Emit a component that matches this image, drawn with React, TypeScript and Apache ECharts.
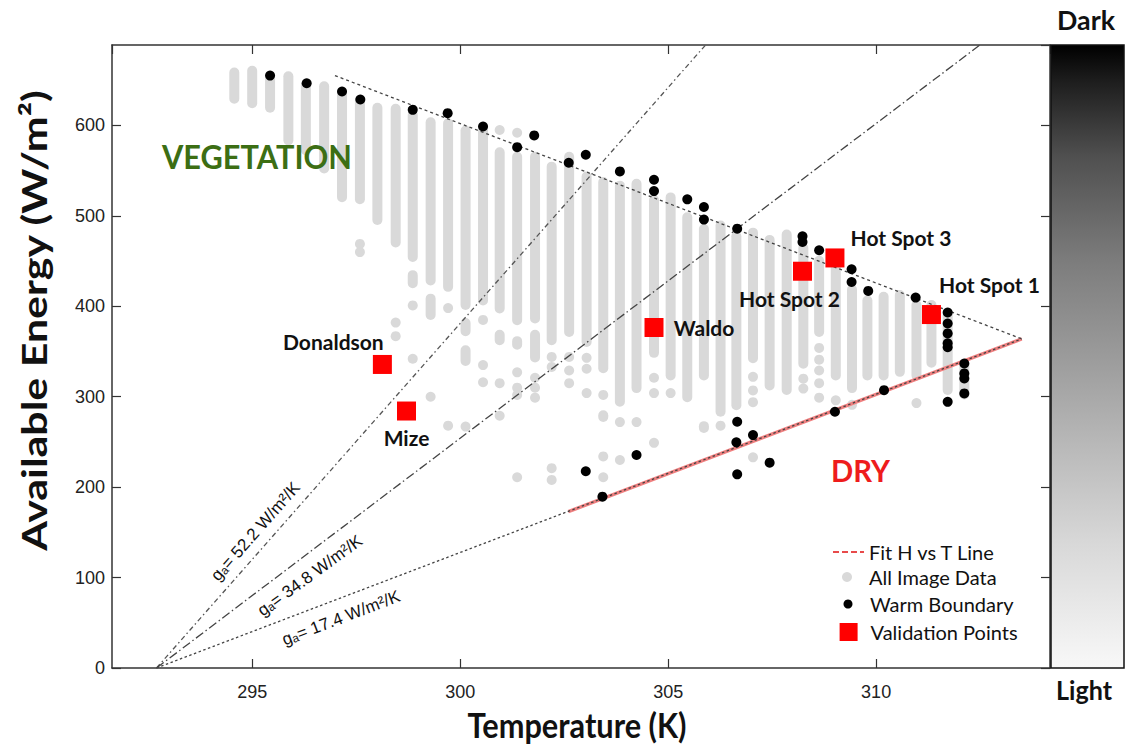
import { useEffect, useRef } from 'react';
import * as echarts from 'echarts';

// ---------- axes ----------
const xTickValues = [295, 300, 305, 310];
const yTickValues = [0, 100, 200, 300, 400, 500, 600];
const X_MIN = 291.63;
const X_MAX = 314.18;
const Y_MIN = 0;
const Y_MAX = 689;

// ---------- All Image Data ----------
// dense vertical runs of image pixels: [temperature K, energy low, energy high]
const imageRuns: [number, number, number][] = [
  [294.57, 624, 664], [295.0, 619, 666], [295.43, 614, 658], [295.87, 578, 660],
  [296.29, 567, 650], [296.73, 547, 649], [297.16, 515, 640], [297.59, 513, 633],
  [298.01, 490, 625], [298.45, 465, 624], [298.86, 449, 617], [298.86, 420, 440],
  [299.29, 423, 609], [299.29, 385, 414], [299.71, 416, 608], [300.13, 396, 600],
  [300.13, 367, 387], [300.13, 334, 357], [300.55, 401, 600], [300.95, 392, 576],
  [300.95, 357, 374], [301.37, 379, 571], [301.37, 352, 367], [301.8, 381, 571],
  [301.8, 338, 374], [302.2, 357, 560], [302.62, 366, 571], [303.04, 355, 549],
  [303.44, 326, 543], [303.44, 272, 285], [303.84, 289, 539], [304.24, 304, 541],
  [304.66, 343, 523], [305.06, 318, 526], [305.46, 294, 504], [305.86, 318, 491],
  [305.86, 260, 273], [306.26, 278, 495], [306.64, 285, 483], [307.04, 337, 487],
  [307.44, 307, 479], [307.85, 302, 485], [308.25, 331, 470], [308.63, 366, 456],
  [309.03, 318, 449], [309.42, 304, 424], [309.79, 318, 412], [310.18, 318, 416],
  [310.57, 322, 418], [310.97, 318, 407], [311.33, 332, 407], [311.72, 302, 396],
  [312.12, 297, 341],
];
// isolated image pixels: [temperature K, energy]
const imageDots: [number, number][] = [
  [297.59, 469], [297.59, 460], [298.45, 382], [298.45, 367], [298.86, 401], [298.86, 342],
  [299.29, 300], [299.71, 398], [299.71, 268], [300.13, 267], [300.55, 385], [300.55, 335],
  [300.55, 316], [300.95, 595], [300.95, 315], [300.95, 279], [301.37, 592], [301.37, 327],
  [301.37, 310], [301.37, 302], [301.37, 211], [301.8, 321], [301.8, 310], [301.8, 299],
  [302.2, 344], [302.2, 333], [302.2, 221], [302.2, 208], [302.62, 344], [302.62, 329],
  [302.62, 315], [303.04, 343], [303.04, 331], [303.04, 304], [303.44, 302], [303.44, 234],
  [303.44, 211], [303.84, 272], [303.84, 230], [304.24, 272], [304.66, 321], [304.66, 304],
  [304.66, 249], [305.06, 304], [306.26, 268], [307.04, 322], [307.04, 307], [307.04, 294],
  [307.04, 233], [308.25, 320], [308.25, 309], [308.63, 354], [308.63, 341], [308.63, 329],
  [308.63, 315], [308.63, 299], [309.03, 296], [309.42, 291], [310.97, 293],
];

// ---------- Warm Boundary ----------
const warmBoundary: [number, number][] = [
  [295.43, 655.2], [296.31, 646.7], [297.16, 637.6], [297.6, 628.7], [298.86, 617.3],
  [299.7, 613.6], [300.55, 598.9], [301.78, 589.0], [301.37, 576.0], [302.61, 558.8],
  [303.02, 567.6], [303.84, 549.2], [304.66, 540.0], [304.66, 527.4], [305.46, 518.3],
  [305.86, 509.8], [305.86, 495.9], [306.66, 485.9], [308.23, 477.4], [308.23, 471.1],
  [308.63, 462.0], [309.41, 441.0], [309.41, 426.9], [309.81, 417.0], [310.95, 409.7],
  [311.72, 393.2], [311.72, 381.0], [311.72, 370.0], [311.72, 359.2], [311.72, 354.8],
  [312.12, 336.8], [312.12, 325.8], [312.12, 320.3], [312.12, 303.7], [311.72, 294.4],
  [310.19, 307.3], [309.01, 283.4], [306.66, 272.3], [307.04, 257.6], [306.64, 249.6],
  [304.24, 235.6], [303.02, 217.6], [303.42, 189.5], [306.66, 214.2], [307.44, 227.1],
];

// ---------- Validation Points ----------
const validationNames = ['Donaldson', 'Mize', 'Waldo', 'Hot Spot 2', 'Hot Spot 3', 'Hot Spot 1'];
const validationTemp = [298.13, 298.71, 304.66, 308.23, 309.01, 311.33];
const validationEnergy = [335.7, 284.2, 376.6, 438.8, 453.5, 390.9];

// ---------- lines ----------
const fitLine: [number, number][] = [[302.6, 172.9], [313.5, 364]];
const upperBoundary: [number, number][] = [[296.99, 655.2], [313.5, 364]];
const ga522Line: [number, number][] = [[292.7, 0], [306.11, 700]];
const ga348Line: [number, number][] = [[292.7, 0], [312.81, 700]];
const ga174Line: [number, number][] = [[292.7, 0], [313.5, 364]];

// ---------- styles ----------
const GRAY = '#d9d9d9';
const AXIS_COLOR = '#333';
const TICK_FONT = '"Liberation Sans Narrow", "Liberation Sans", Arial, sans-serif';
const labelOffsets: Record<string, [number, number]> = {
  Donaldson: [-49, -23],
  Mize: [0, 26],
  Waldo: [50, 0],
  'Hot Spot 2': [-13, 27],
  'Hot Spot 3': [66, -20],
  'Hot Spot 1': [58, -30],
};

type Ann = {
  text: string; x: number; y: number; size: number; color: string;
  weight?: string; family?: string; width?: number; rot?: number;
};
const GA_FONT = '"Liberation Sans", Arial, sans-serif';
const annotations: Ann[] = [
  { text: 'VEGETATION', x: 257, y: 157, size: 33, color: '#3c6e14', weight: 'bold', width: 190 },
  { text: 'DRY', x: 860.5, y: 469.5, size: 31, color: '#ee1c1c', weight: 'bold', width: 59 },
  { text: 'Temperature (K)', x: 577, y: 725, size: 34, color: '#111', weight: 'bold', width: 219 },
  { text: 'Available Energy (W/m²)', x: 34, y: 320.5, size: 34, color: '#111', weight: 'bold', width: 462, rot: 90 },
  { text: 'Dark', x: 1086, y: 19, size: 27, color: '#111', weight: 'bold', width: 58 },
  { text: 'Light', x: 1084, y: 690, size: 27, color: '#111', weight: 'bold', width: 56 },
  { text: 'gₐ= 52.2 W/m²/K', x: 255.5, y: 531.5, size: 17, color: '#111', family: GA_FONT, weight: 'normal', rot: 48.6 },
  { text: 'gₐ= 34.8 W/m²/K', x: 310, y: 575.5, size: 17, color: '#111', family: GA_FONT, weight: 'normal', rot: 36 },
  { text: 'gₐ= 17.4 W/m²/K', x: 341, y: 618, size: 17, color: '#111', family: GA_FONT, weight: 'normal', rot: 21 },
];

function isTick(v: number, ticks: number[]) {
  return ticks.some((t) => Math.abs(t - v) < 1e-6);
}

function buildOption() {
  const ctx = document.createElement('canvas').getContext('2d');
  const graphics: any[] = [];

  graphics.push({
    type: 'rect',
    shape: { x: 1051, y: 45, width: 73, height: 623 },
    style: {
      fill: new echarts.graphic.LinearGradient(0, 0, 0, 1, [
        { offset: 0, color: '#000000' },
        { offset: 0.06, color: '#1e1e1e' },
        { offset: 0.18, color: '#505050' },
        { offset: 0.35, color: '#7d7d7d' },
        { offset: 0.5, color: '#9b9b9b' },
        { offset: 0.65, color: '#bababa' },
        { offset: 0.8, color: '#d8d8d8' },
        { offset: 1, color: '#f8f8f8' },
      ]),
      stroke: '#111',
      lineWidth: 1.5,
    },
    z: 10,
  });

  annotations.forEach((a) => {
    const family = a.family || 'Lato, "Open Sans", sans-serif';
    const weight = a.weight || 'bold';
    let scaleX = 1;
    if (a.width && ctx) {
      ctx.font = `${weight} ${a.size}px ${family}`;
      const w = ctx.measureText(a.text).width;
      if (w > 0) scaleX = a.width / w;
    }
    graphics.push({
      type: 'text',
      x: a.x,
      y: a.y,
      rotation: ((a.rot || 0) * Math.PI) / 180,
      scaleX,
      z: 20,
      style: {
        text: a.text,
        fontFamily: family,
        fontWeight: weight,
        fontSize: a.size,
        fill: a.color,
        align: 'center',
        verticalAlign: 'middle',
        textAlign: 'center',
        textVerticalAlign: 'middle',
      },
    });
  });

  const xAxisBase = {
    type: 'value',
    min: X_MIN,
    max: X_MAX,
    splitNumber: 5,
    splitLine: { show: false },
    axisLine: { show: true, onZero: false, lineStyle: { color: AXIS_COLOR, width: 1.5 } },
    axisTick: { show: true, inside: true, length: 9, lineStyle: { color: AXIS_COLOR, width: 1.2 } },
  };
  const yAxisBase = {
    type: 'value',
    min: Y_MIN,
    max: Y_MAX,
    interval: 100,
    splitLine: { show: false },
    axisLine: { show: true, onZero: false, lineStyle: { color: AXIS_COLOR, width: 1.5 } },
    axisTick: { show: true, inside: true, length: 9, lineStyle: { color: AXIS_COLOR, width: 1.2 } },
  };

  const legendText = { fontFamily: 'Lato, "Open Sans", sans-serif', fontSize: 20, color: '#111', lineHeight: 22 };
  const legendCommon = { orient: 'vertical', padding: 0, selectedMode: false, textStyle: legendText };

  return {
    animation: false,
    backgroundColor: '#ffffff',
    grid: { left: 112, right: 80, top: 45, bottom: 81, show: false, containLabel: false, outerBoundsMode: 'none' },
    xAxis: [
      {
        ...xAxisBase,
        position: 'bottom',
        axisLabel: {
          show: true,
          margin: 15,
          fontFamily: TICK_FONT,
          fontSize: 18,
          color: '#222',
          showMinLabel: false,
          showMaxLabel: false,
          formatter: (v: number) => (isTick(v, xTickValues) ? String(Math.round(v)) : ''),
        },
      },
      { ...xAxisBase, position: 'top', axisLabel: { show: false } },
    ],
    yAxis: [
      {
        ...yAxisBase,
        position: 'left',
        axisLabel: {
          show: true,
          margin: 7,
          fontFamily: TICK_FONT,
          fontSize: 18,
          color: '#222',
          showMaxLabel: false,
          formatter: (v: number) => (isTick(v, yTickValues) ? String(Math.round(v)) : ''),
        },
      },
      { ...yAxisBase, position: 'right', axisLabel: { show: false } },
    ],
    legend: [
      {
        ...legendCommon,
        left: 833,
        top: 541,
        itemWidth: 31,
        itemHeight: 22,
        data: [{ name: 'Fit H vs T Line', icon: 'path://M0,10H6V12H0Z M9,10H15V12H9Z M18,10H24V12H18Z M27,10H31V12H27Z', itemStyle: { color: '#e84a4a' } }],
      },
      {
        ...legendCommon,
        left: 842,
        top: 566,
        itemWidth: 34,
        itemHeight: 10,
        data: [{ name: 'All Image Data', icon: 'circle' }],
      },
      {
        ...legendCommon,
        left: 843.5,
        top: 593,
        itemWidth: 34,
        itemHeight: 9,
        data: [{ name: 'Warm Boundary', icon: 'circle' }],
      },
      {
        ...legendCommon,
        left: 839.6,
        top: 621,
        itemWidth: 34,
        itemHeight: 18,
        data: [{ name: 'Validation Points', icon: 'path://M0,0H10V10H0Z' }],
      },
    ],
    graphic: { elements: graphics },
    series: [
      {
        type: 'custom',
        name: 'All Image Data',
        data: imageRuns,
        encode: { x: 0, y: [1, 2] },
        itemStyle: { color: GRAY, opacity: 1 },
        silent: true,
        z: 1,
        renderItem: (_params: any, api: any) => {
          const t = api.value(0);
          const lo = api.value(1);
          const hi = api.value(2);
          const top = api.coord([t, hi]);
          const bot = api.coord([t, lo]);
          const w = 10;
          return {
            type: 'rect',
            shape: { x: top[0] - w / 2, y: top[1], width: w, height: Math.max(w, bot[1] - top[1]), r: w / 2 },
            style: { fill: GRAY },
          };
        },
      },
      {
        type: 'scatter',
        name: 'All Image Data',
        data: imageDots,
        symbol: 'circle',
        symbolSize: 10,
        itemStyle: { color: GRAY, opacity: 1 },
        silent: true,
        z: 1,
      },
      {
        type: 'line',
        name: 'Fit H vs T Line',
        data: fitLine,
        symbol: 'none',
        color: '#e84a4a',
        lineStyle: { color: '#f08080', width: 3.5 },
        silent: true,
        z: 2,
      },
      {
        type: 'line',
        name: 'ga 52.2',
        data: ga522Line,
        symbol: 'none',
        lineStyle: { color: '#555', width: 1.3, type: [5, 3, 1.5, 3] },
        silent: true,
        z: 3,
      },
      {
        type: 'line',
        name: 'ga 34.8',
        data: ga348Line,
        symbol: 'none',
        lineStyle: { color: '#444', width: 1.3, type: [9, 3, 1.5, 3] },
        silent: true,
        z: 3,
      },
      {
        type: 'line',
        name: 'ga 17.4',
        data: ga174Line,
        symbol: 'none',
        lineStyle: { color: '#444', width: 1.3, type: [2.5, 2.5] },
        silent: true,
        z: 3,
      },
      {
        type: 'line',
        name: 'Upper boundary',
        data: upperBoundary,
        symbol: 'none',
        lineStyle: { color: '#444', width: 1.3, type: [3, 3] },
        silent: true,
        z: 3,
      },
      {
        type: 'scatter',
        name: 'Warm Boundary',
        data: warmBoundary,
        symbol: 'circle',
        symbolSize: 10,
        itemStyle: { color: '#000000', opacity: 1 },
        silent: true,
        z: 4,
      },
      {
        type: 'scatter',
        name: 'Validation Points',
        symbol: 'rect',
        symbolSize: 19,
        itemStyle: { color: '#ff0000', opacity: 1 },
        silent: true,
        z: 5,
        label: {
          show: true,
          position: 'inside',
          formatter: '{b}',
          fontFamily: 'Lato, "Open Sans", sans-serif',
          fontWeight: 'bold',
          fontSize: 21,
          color: '#111',
          textBorderWidth: 0,
        },
        data: validationNames.map((n, i) => ({
          name: n,
          value: [validationTemp[i], validationEnergy[i]],
          label: { offset: labelOffsets[n] },
        })),
      },
    ],
  };
}

export default function App() {
  const ref = useRef<HTMLDivElement>(null);
  useEffect(() => {
    if (!ref.current) return;
    const chart = echarts.init(ref.current, null, { renderer: 'svg' });
    chart.setOption(buildOption() as any);
    return () => chart.dispose();
  }, []);
  return (
    <div
      ref={ref}
      style={{ position: 'fixed', left: 0, top: 0, width: 1130, height: 749, background: '#ffffff' }}
    />
  );
}
